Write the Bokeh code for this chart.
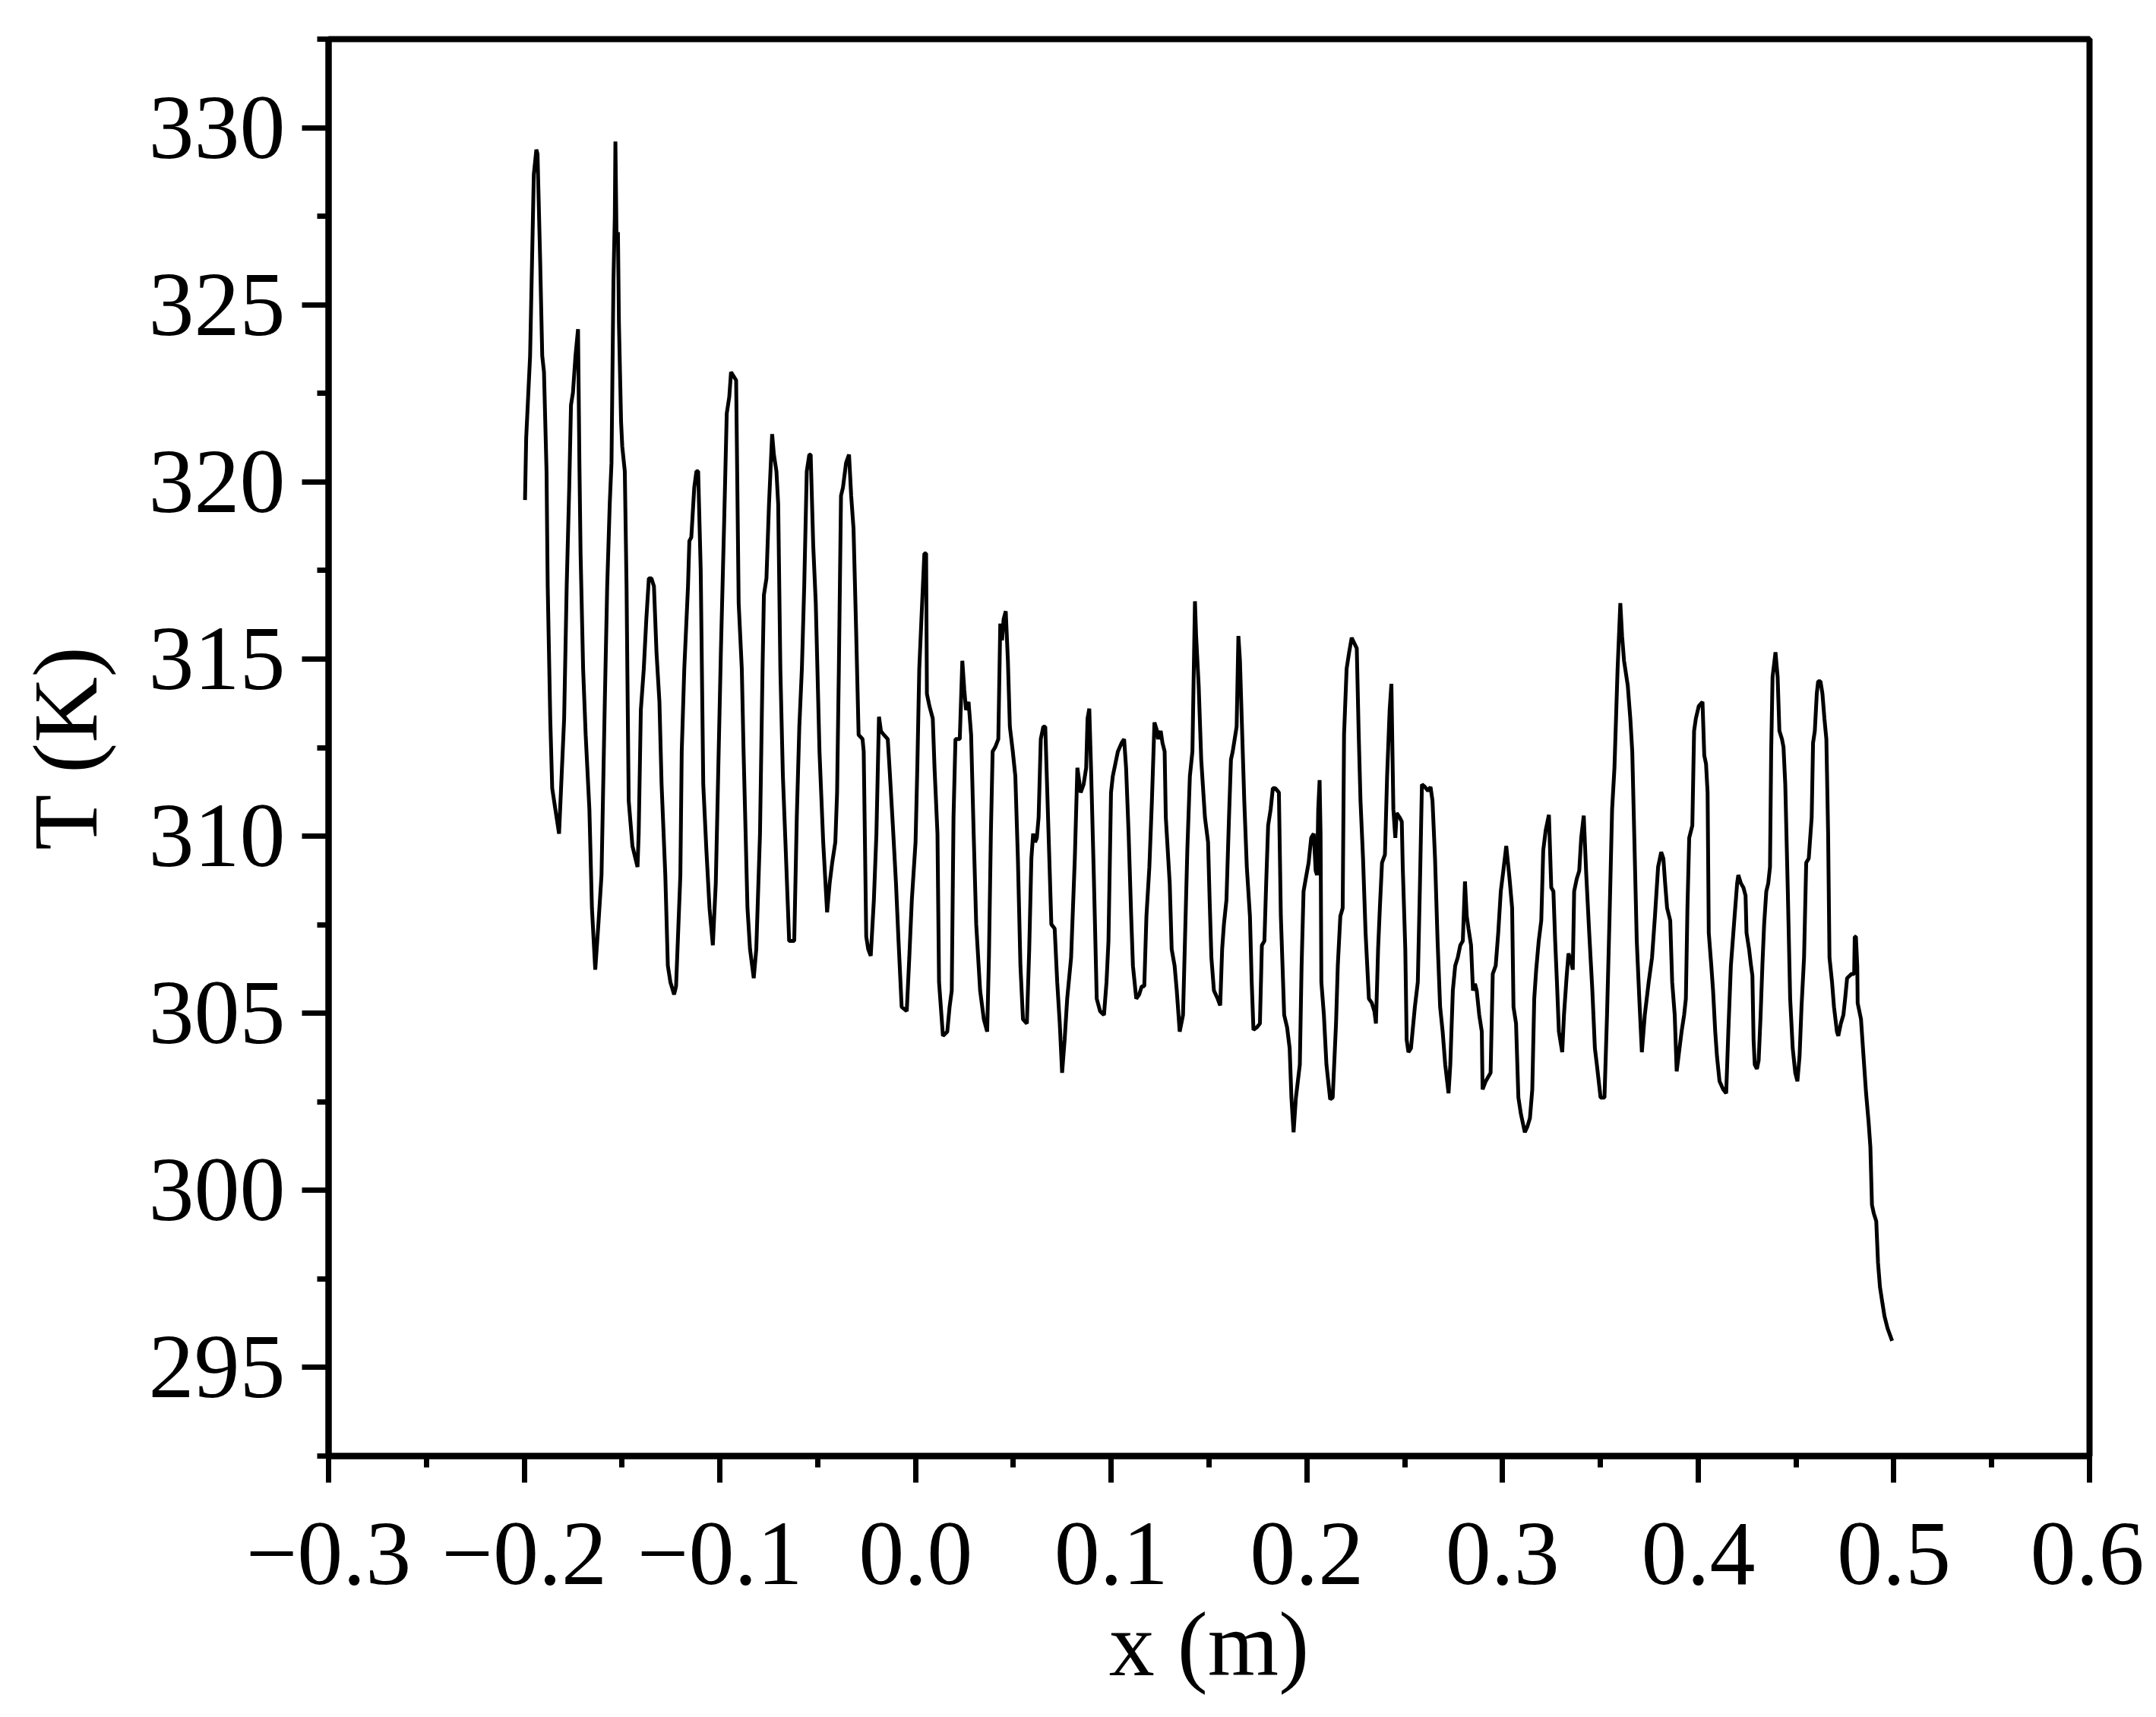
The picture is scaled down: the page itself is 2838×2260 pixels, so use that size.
from bokeh.plotting import figure
from bokeh.models import Range1d, FixedTicker, CustomJSTickFormatter
from bokeh.embed import file_html
from bokeh.resources import INLINE

# ---- data: x (m) and T (K), in six consecutive pieces ----
x_seg1 = [-0.1996, -0.1990, -0.1970, -0.1951, -0.1938, -0.1932, -0.1919, -0.1908, -0.1899, -0.1886,
          -0.1880, -0.1867, -0.1857, -0.1841, -0.1822, -0.1809, -0.1796, -0.1783, -0.1770, -0.1761,
          -0.1751, -0.1738, -0.1725, -0.1718, -0.1712, -0.1699, -0.1686, -0.1667, -0.1654, -0.1637,
          -0.1621, -0.1605, -0.1589, -0.1576, -0.1563, -0.1554, -0.1544, -0.1537, -0.1534, -0.1528,
          -0.1521, -0.1516, -0.1505, -0.1499, -0.1486, -0.1477, -0.1473, -0.1466, -0.1447, -0.1421,
          -0.1415, -0.1404, -0.1389, -0.1376, -0.1363, -0.1350, -0.1337, -0.1324, -0.1309, -0.1298,
          -0.1279, -0.1266, -0.1253, -0.1234, -0.1224, -0.1215, -0.1202, -0.1195, -0.1182, -0.1163,
          -0.1156, -0.1146, -0.1131, -0.1120, -0.1111, -0.1098, -0.1085, -0.1069, -0.1053, -0.1036,
          -0.1021, -0.1008, -0.0995, -0.0978, -0.0965, -0.0952]
T_seg1 = [319.49, 321.24, 323.56, 328.68, 329.38, 329.26, 326.36, 323.56, 323.10, 320.30,
          317.05, 313.32, 311.35, 310.76, 310.07, 311.69, 313.32, 317.05, 319.84, 322.17,
          322.52, 323.56, 324.31, 320.54, 317.98, 314.72, 312.86, 310.76, 307.97, 306.23,
          307.51, 308.90, 313.56, 317.05, 319.37, 320.54, 325.66, 327.52, 329.61, 326.82,
          327.05, 324.49, 321.70, 321.00, 320.30, 317.05, 314.72, 311.00, 309.72, 309.13,
          310.07, 313.56, 314.72, 316.12, 317.28, 317.28, 317.05, 315.19, 313.79, 311.46,
          308.90, 306.34, 305.88, 305.53, 305.76, 307.04, 308.90, 312.39, 314.72, 317.05,
          318.33, 318.44, 319.84, 320.30, 320.30, 317.51, 311.46, 309.60, 307.97, 306.92,
          308.67, 311.93, 315.19, 318.91, 321.93, 322.40]

x_seg2 = [-0.0943, -0.0917, -0.0904, -0.0888, -0.0879, -0.0859, -0.0846, -0.0827, -0.0814, -0.0795,
          -0.0782, -0.0775, -0.0762, -0.0749, -0.0733, -0.0724, -0.0711, -0.0702, -0.0691, -0.0678,
          -0.0665, -0.0646, -0.0633, -0.0620, -0.0607, -0.0594, -0.0581, -0.0569, -0.0556, -0.0543,
          -0.0536, -0.0523, -0.0510, -0.0491, -0.0472, -0.0452, -0.0439, -0.0426, -0.0410, -0.0401,
          -0.0392, -0.0381, -0.0371, -0.0355, -0.0340, -0.0329, -0.0317, -0.0304, -0.0291, -0.0271,
          -0.0265, -0.0252, -0.0242, -0.0229, -0.0213, -0.0200, -0.0187, -0.0177, -0.0168, -0.0142,
          -0.0133, -0.0116, -0.0100, -0.0087, -0.0071, -0.0045, -0.0032, -0.0019, 0.0000, 0.0009,
          0.0019, 0.0030, 0.0045, 0.0054, 0.0058, 0.0071, 0.0088, 0.0097, 0.0112, 0.0120,
          0.0140, 0.0162, 0.0174, 0.0185, 0.0194, 0.0204]
T_seg2 = [323.10, 322.87, 316.58, 314.72, 312.39, 307.97, 306.81, 305.99, 306.81, 310.07,
          314.72, 316.81, 317.28, 319.37, 321.35, 320.77, 320.30, 319.37, 314.72, 311.69,
          309.83, 307.04, 307.04, 307.04, 310.53, 313.09, 314.72, 317.05, 320.30, 320.77,
          320.77, 318.21, 316.58, 312.39, 309.83, 307.85, 308.67, 309.25, 309.83, 311.23,
          314.72, 319.61, 319.84, 320.54, 320.77, 319.61, 318.68, 315.88, 312.86, 312.74,
          312.39, 307.16, 306.81, 306.62, 308.20, 310.07, 313.37, 312.97, 312.90, 312.74,
          311.93, 310.30, 308.67, 307.04, 305.18, 305.06, 306.57, 308.20, 309.83, 311.93,
          314.72, 316.12, 317.98, 317.98, 314.02, 313.67, 313.32, 311.93, 310.07, 305.88,
          304.36, 304.48, 305.18, 305.64, 310.53, 312.74]

x_seg3 = [0.0226, 0.0239, 0.0249, 0.0258, 0.0271, 0.0284, 0.0297, 0.0310, 0.0330, 0.0349,
          0.0366, 0.0375, 0.0385, 0.0394, 0.0407, 0.0423, 0.0433, 0.0442, 0.0450, 0.0461,
          0.0472, 0.0482, 0.0497, 0.0510, 0.0523, 0.0536, 0.0549, 0.0569, 0.0581, 0.0592,
          0.0601, 0.0611, 0.0620, 0.0629, 0.0640, 0.0653, 0.0663, 0.0672, 0.0685, 0.0694,
          0.0711, 0.0724, 0.0737, 0.0749, 0.0762, 0.0775, 0.0795, 0.0814, 0.0827, 0.0833,
          0.0844, 0.0859, 0.0872, 0.0879, 0.0888, 0.0898, 0.0911, 0.0917, 0.0926, 0.0943,
          0.0963, 0.0976, 0.0986, 0.0999, 0.1008, 0.1021, 0.1034, 0.1053, 0.1066, 0.1076,
          0.1089, 0.1102, 0.1111, 0.1128, 0.1143, 0.1156, 0.1169, 0.1180, 0.1195, 0.1208,
          0.1221, 0.1234, 0.1240, 0.1253, 0.1262, 0.1273, 0.1279, 0.1299, 0.1309, 0.1324,
          0.1335, 0.1350, 0.1367]
T_seg3 = [312.74, 314.95, 314.14, 313.56, 313.79, 312.86, 310.07, 307.51, 305.64, 304.83,
          304.48, 306.57, 310.07, 312.39, 312.51, 312.74, 316.00, 315.53, 316.12, 316.35,
          314.95, 313.09, 312.39, 311.69, 309.37, 306.34, 304.83, 304.71, 306.81, 309.37,
          310.07, 309.83, 309.95, 310.53, 312.74, 313.09, 313.09, 311.46, 309.13, 307.51,
          307.39, 305.88, 304.71, 303.32, 304.25, 305.41, 306.57, 309.37, 311.93, 311.69,
          311.23, 311.46, 311.93, 313.32, 313.60, 311.69, 308.90, 307.51, 305.41, 305.06,
          304.95, 305.88, 307.04, 311.23, 311.69, 312.04, 312.39, 312.63, 312.74, 311.93,
          310.07, 307.74, 306.34, 305.41, 305.53, 305.76, 305.76, 307.74, 309.13, 311.00,
          313.21, 312.97, 312.74, 312.97, 312.63, 312.39, 310.53, 308.67, 306.81, 306.34,
          305.64, 304.48, 304.95]

x_seg4 = [0.1389, 0.1402, 0.1415, 0.1428, 0.1434, 0.1447, 0.1460, 0.1479, 0.1495, 0.1503,
          0.1512, 0.1525, 0.1544, 0.1557, 0.1567, 0.1576, 0.1589, 0.1602, 0.1612, 0.1621,
          0.1641, 0.1650, 0.1658, 0.1667, 0.1680, 0.1693, 0.1709, 0.1718, 0.1727, 0.1744,
          0.1760, 0.1770, 0.1783, 0.1792, 0.1802, 0.1815, 0.1826, 0.1839, 0.1857, 0.1867,
          0.1884, 0.1899, 0.1912, 0.1921, 0.1932, 0.1944, 0.1964, 0.1973, 0.1983, 0.1994,
          0.2009, 0.2022, 0.2035, 0.2045, 0.2052, 0.2058, 0.2065, 0.2070, 0.2074, 0.2087,
          0.2100, 0.2119, 0.2132, 0.2149, 0.2158, 0.2171, 0.2183, 0.2190, 0.2203, 0.2216,
          0.2229, 0.2255, 0.2265, 0.2274, 0.2287, 0.2300, 0.2317, 0.2332, 0.2345, 0.2353,
          0.2364, 0.2373, 0.2384, 0.2399, 0.2410, 0.2423, 0.2432, 0.2442, 0.2452, 0.2459,
          0.2474, 0.2485, 0.2490, 0.2503, 0.2510, 0.2519, 0.2532]
T_seg4 = [309.60, 311.69, 312.39, 316.63, 315.65, 314.25, 312.16, 310.53, 309.83, 308.20,
          306.57, 305.64, 305.41, 305.22, 306.81, 307.51, 308.20, 310.53, 312.16, 312.39,
          313.09, 315.65, 314.95, 313.32, 311.00, 309.13, 307.74, 305.88, 304.53, 304.60,
          304.71, 306.92, 307.04, 308.67, 310.30, 310.76, 311.35, 311.35, 311.23, 307.74,
          304.95, 304.60, 304.01, 302.62, 301.64, 302.62, 303.55, 306.34, 308.44, 308.79,
          309.25, 309.95, 310.07, 309.02, 308.90, 310.76, 311.58, 310.07, 305.88, 304.95,
          303.55, 302.57, 302.62, 304.71, 306.34, 307.74, 307.97, 312.86, 314.72, 315.19,
          315.60, 315.30, 312.86, 311.00, 309.37, 307.27, 305.41, 305.29, 305.06, 304.71,
          306.81, 307.97, 309.25, 309.48, 311.69, 313.56, 314.30, 310.76, 309.95, 310.65,
          310.53, 310.41, 309.13, 306.81, 304.25, 303.90, 304.01]

x_seg5 = [0.2552, 0.2567, 0.2578, 0.2588, 0.2603, 0.2619, 0.2632, 0.2642, 0.2655, 0.2668,
          0.2681, 0.2694, 0.2707, 0.2724, 0.2733, 0.2746, 0.2758, 0.2771, 0.2784, 0.2797,
          0.2808, 0.2817, 0.2826, 0.2839, 0.2849, 0.2859, 0.2868, 0.2881, 0.2894, 0.2898,
          0.2914, 0.2939, 0.2950, 0.2965, 0.2978, 0.2991, 0.3004, 0.3019, 0.3036, 0.3049,
          0.3056, 0.3069, 0.3081, 0.3094, 0.3114, 0.3127, 0.3140, 0.3152, 0.3162, 0.3172,
          0.3185, 0.3198, 0.3208, 0.3221, 0.3237, 0.3249, 0.3260, 0.3269, 0.3278, 0.3288,
          0.3305, 0.3314, 0.3327, 0.3337, 0.3350, 0.3359, 0.3366, 0.3379, 0.3392, 0.3402,
          0.3415, 0.3428, 0.3443, 0.3459, 0.3472, 0.3482, 0.3501, 0.3521, 0.3534, 0.3547,
          0.3560, 0.3572, 0.3588, 0.3602, 0.3611, 0.3621, 0.3640, 0.3653, 0.3663, 0.3673,
          0.3686, 0.3699]
T_seg5 = [305.18, 305.88, 308.67, 311.46, 311.39, 311.28, 311.39, 311.00, 309.37, 307.04,
          305.18, 304.48, 303.55, 302.74, 303.55, 305.64, 306.34, 306.57, 306.92, 307.04,
          308.72, 307.74, 307.39, 306.92, 305.64, 305.83, 305.64, 304.95, 304.48, 302.85,
          303.08, 303.32, 306.11, 306.34, 307.27, 308.44, 309.02, 309.72, 308.79, 307.97,
          305.18, 304.71, 302.62, 302.15, 301.64, 301.80, 302.04, 302.85, 305.41, 306.23,
          307.04, 307.62, 309.60, 310.18, 310.60, 308.55, 308.44, 307.04, 305.88, 304.48,
          303.90, 304.95, 305.99, 306.69, 306.46, 306.23, 308.44, 308.79, 309.02, 309.95,
          310.58, 308.90, 307.27, 305.64, 304.01, 303.55, 302.62, 302.62, 304.95, 307.74,
          310.76, 311.93, 314.72, 316.58, 315.65, 314.95, 314.25, 313.32, 312.39, 310.07,
          307.04, 305.41]

x_seg6 = [0.3712, 0.3727, 0.3747, 0.3764, 0.3779, 0.3795, 0.3811, 0.3822, 0.3831, 0.3841,
          0.3857, 0.3867, 0.3880, 0.3890, 0.3902, 0.3915, 0.3928, 0.3937, 0.3945, 0.3954,
          0.3970, 0.3979, 0.3988, 0.4003, 0.4022, 0.4031, 0.4040, 0.4048, 0.4054, 0.4067,
          0.4076, 0.4087, 0.4096, 0.4109, 0.4128, 0.4143, 0.4154, 0.4167, 0.4186, 0.4199,
          0.4205, 0.4218, 0.4231, 0.4242, 0.4247, 0.4260, 0.4270, 0.4277, 0.4283, 0.4289,
          0.4300, 0.4309, 0.4319, 0.4328, 0.4337, 0.4348, 0.4358, 0.4367, 0.4373, 0.4380,
          0.4395, 0.4406, 0.4415, 0.4428, 0.4436, 0.4445, 0.4458, 0.4470, 0.4483, 0.4496,
          0.4507, 0.4518, 0.4528, 0.4541, 0.4552, 0.4565, 0.4574, 0.4580, 0.4587, 0.4596,
          0.4606, 0.4613, 0.4625, 0.4635, 0.4645, 0.4655, 0.4664, 0.4671, 0.4684, 0.4694,
          0.4709, 0.4716, 0.4729, 0.4742, 0.4751, 0.4761, 0.4784, 0.4797, 0.4800, 0.4806,
          0.4813, 0.4815, 0.4832, 0.4845, 0.4858, 0.4871, 0.4880, 0.4888, 0.4897, 0.4910,
          0.4919, 0.4929, 0.4942, 0.4952, 0.4968, 0.4991]
T_seg6 = [303.90, 304.95, 305.88, 306.57, 307.74, 309.13, 309.55, 309.37, 308.67, 307.97,
          307.62, 305.88, 304.95, 303.36, 303.90, 304.48, 304.95, 305.41, 307.97, 309.95,
          310.30, 312.97, 313.32, 313.67, 313.79, 312.28, 312.04, 311.23, 307.27, 306.34,
          305.64, 304.48, 303.78, 303.08, 302.85, 302.74, 304.48, 306.34, 307.74, 308.67,
          308.90, 308.67, 308.55, 308.32, 307.27, 306.81, 306.34, 306.06, 304.25, 303.55,
          303.43, 303.67, 304.95, 306.34, 307.51, 308.44, 308.67, 309.13, 312.39, 314.49,
          315.19, 314.49, 312.97, 312.74, 312.51, 311.46, 308.44, 305.41, 304.01, 303.32,
          303.08, 303.78, 305.18, 306.57, 309.25, 309.37, 310.07, 310.53, 312.63, 312.97,
          314.02, 314.37, 314.37, 314.02, 313.32, 312.74, 310.07, 306.57, 305.88, 305.18,
          304.48, 304.36, 304.71, 304.95, 305.41, 305.99, 306.11, 306.11, 307.16, 307.16,
          306.34, 305.29, 304.83, 303.78, 302.74, 301.92, 301.22, 299.59, 299.36, 299.13,
          297.96, 297.27, 296.80, 296.45, 296.10, 295.75]

x_ticks = [-0.3, -0.2, -0.1, 0.0, 0.1, 0.2, 0.3, 0.4, 0.5, 0.6]
x_minor_ticks = [-0.25, -0.15, -0.05, 0.05, 0.15, 0.25, 0.35, 0.45, 0.55]
y_ticks = [295, 300, 305, 310, 315, 320, 325, 330]
y_minor_ticks = [292.5, 297.5, 302.5, 307.5, 312.5, 317.5, 322.5, 327.5, 332.5]

x_title = "x (m)"
y_title = "T (K)"

# ---- assemble ----
xs, ts = [], []
for xa, ta in [(x_seg1, T_seg1), (x_seg2, T_seg2), (x_seg3, T_seg3),
               (x_seg4, T_seg4), (x_seg5, T_seg5), (x_seg6, T_seg6)]:
    n = min(len(xa), len(ta))
    xs.extend(xa[:n])
    ts.extend(ta[:n])

FONT = "Liberation Serif"

p = figure(
    frame_width=2318, frame_height=1865,
    min_border_left=432, min_border_right=72,
    min_border_top=51, min_border_bottom=328,
    x_range=Range1d(-0.3, 0.6), y_range=Range1d(292.5, 332.5),
    output_backend="svg", toolbar_location=None,
    background_fill_color="white", border_fill_color="white",
)

p.line(xs, ts, line_color="black", line_width=5)

p.xgrid.visible = False
p.ygrid.visible = False
p.outline_line_color = "black"
p.outline_line_width = 8
p.outline_line_alpha = 1.0

p.xaxis.ticker = FixedTicker(ticks=x_ticks, minor_ticks=x_minor_ticks)
p.yaxis.ticker = FixedTicker(ticks=y_ticks, minor_ticks=y_minor_ticks)
p.xaxis.formatter = CustomJSTickFormatter(code="""
    const s = Math.abs(tick).toFixed(1);
    return (tick < -1e-9 ? "\u2212" : "") + s;
""")

for ax in (p.xaxis[0], p.yaxis[0]):
    ax.axis_line_width = 8
    ax.axis_line_color = "black"
    ax.major_tick_line_width = 7
    ax.minor_tick_line_width = 7
    ax.major_tick_line_color = "black"
    ax.minor_tick_line_color = "black"
    ax.major_tick_out = 35
    ax.major_tick_in = 0
    ax.minor_tick_out = 15
    ax.minor_tick_in = 0
    ax.major_label_text_font = FONT
    ax.major_label_text_font_size = "120px"
    ax.major_label_text_color = "black"
    ax.axis_label_text_font = FONT
    ax.axis_label_text_font_size = "120px"
    ax.axis_label_text_font_style = "normal"
    ax.axis_label_text_color = "black"

p.xaxis.axis_label = x_title
p.yaxis.axis_label = y_title
p.xaxis.major_label_standoff = 54
p.yaxis.major_label_standoff = 22
p.xaxis.axis_label_standoff = 10
p.yaxis.axis_label_standoff = 40

open("out.html", "w").write(file_html(p, INLINE))
